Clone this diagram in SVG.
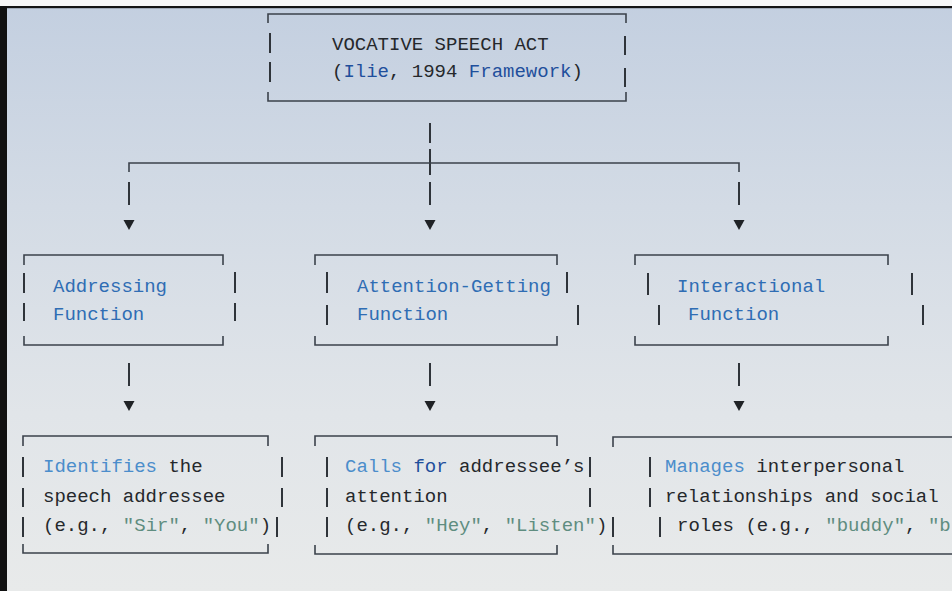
<svg xmlns="http://www.w3.org/2000/svg" width="952" height="591" viewBox="0 0 952 591">
  <defs>
    <linearGradient id="bg" x1="0" y1="0" x2="0" y2="1">
      <stop offset="0" stop-color="#c3cfe0"/>
      <stop offset="0.35" stop-color="#d3dbe5"/>
      <stop offset="0.7" stop-color="#e1e5e9"/>
      <stop offset="1" stop-color="#e8eaea"/>
    </linearGradient>
    <path id="arrow" d="M-5.5,0 L5.5,0 L0,10 Z"/>
    <style>
      .frame { fill: none; stroke: #3b424b; stroke-width: 1.6; }
      .bar { fill: none; stroke: #2f343a; stroke-width: 2; }
      .wire { fill: none; stroke: #3b424b; stroke-width: 1.6; }
      .head { fill: #1f2226; }
      text { font-family: "Liberation Mono", "DejaVu Sans Mono", monospace; font-size: 19px; fill: #25282c; }
      .kw { fill: #2f6db4; }
      .kw2 { fill: #1f4f9c; }
      .lt { fill: #4b8dcb; }
      .str { fill: #5f8d80; }
    </style>
  </defs>

  <!-- page -->
  <rect width="952" height="591" fill="url(#bg)"/>
  <rect x="0" y="0" width="952" height="6" fill="#f7f7f7"/>
  <rect x="0" y="6" width="952" height="2.2" fill="#141414"/>
  <rect x="0" y="6" width="7" height="585" fill="#111111"/>

  <!-- root -->
  <g id="root">
    <path class="frame" d="M268,23 V14 H626 V23"/>
    <path class="frame" d="M268,92 V101 H626 V92"/>
    <path class="bar" d="M270,33 V53 M270,62 V82 M625,36 V55 M625,68 V87"/>
    <text x="332" y="50">VOCATIVE SPEECH ACT</text>
    <text x="332" y="77">(<tspan class="kw2">Ilie</tspan>, 1994 <tspan class="kw2">Framework</tspan>)</text>
  </g>

  <!-- connectors -->
  <g id="connectors">
    <path class="bar" d="M430,123 V143 M430,149 V175 M430,182 V205"/>
    <path class="wire" d="M129,172 V163 H739 V172"/>
    <path class="bar" d="M129,182 V205 M739,182 V205"/>
    <use href="#arrow" class="head" x="129" y="220"/>
    <use href="#arrow" class="head" x="430" y="220"/>
    <use href="#arrow" class="head" x="739" y="220"/>
    <path class="bar" d="M129,363 V386 M430,363 V386 M739,363 V386"/>
    <use href="#arrow" class="head" x="129" y="401"/>
    <use href="#arrow" class="head" x="430" y="401"/>
    <use href="#arrow" class="head" x="739" y="401"/>
  </g>

  <!-- second level -->
  <g id="addressing">
    <path class="frame" d="M24,265 V255 H223 V265"/>
    <path class="frame" d="M24,336 V345 H223 V336"/>
    <path class="bar" d="M24,273 V293 M24,303 V321 M235,272 V293 M235,303 V321"/>
    <text x="53" y="292" class="kw">Addressing</text>
    <text x="53" y="320" class="kw">Function</text>
  </g>

  <g id="attention">
    <path class="frame" d="M315,265 V255 H557 V265"/>
    <path class="frame" d="M315,336 V345 H557 V336"/>
    <path class="bar" d="M327,272 V293 M327,305 V325 M567,272 V293 M578,305 V325"/>
    <text x="357" y="292" class="kw">Attention-Getting</text>
    <text x="357" y="320" class="kw">Function</text>
  </g>

  <g id="interactional">
    <path class="frame" d="M635,265 V255 H888 V265"/>
    <path class="frame" d="M635,336 V345 H888 V336"/>
    <path class="bar" d="M648,273 V295 M659,305 V325 M912,273 V295 M923,305 V325"/>
    <text x="677" y="292" class="kw">Interactional</text>
    <text x="688" y="320" class="kw">Function</text>
  </g>

  <!-- third level -->
  <g id="addressing-detail">
    <path class="frame" d="M23,446 V436 H268 V446"/>
    <path class="frame" d="M23,544 V553 H268 V544"/>
    <path class="bar" d="M23,457 V477 M23,488 V507 M23,517 V537 M282,457 V477 M282,488 V507 M277,517 V537"/>
    <text x="43" y="472"><tspan class="lt">Identifies</tspan> the</text>
    <text x="43" y="502">speech addressee</text>
    <text x="43" y="531">(e.g., <tspan class="str">"Sir"</tspan>, <tspan class="str">"You"</tspan>)</text>
  </g>

  <g id="attention-detail">
    <path class="frame" d="M315,446 V436 H557 V446"/>
    <path class="frame" d="M315,545 V554 H557 V545"/>
    <path class="bar" d="M327,457 V477 M327,488 V507 M327,517 V537 M590,457 V477 M590,488 V507 M613,517 V537"/>
    <text x="345" y="472"><tspan class="lt">Calls</tspan> <tspan class="kw2">for</tspan> addressee’s</text>
    <text x="345" y="502">attention</text>
    <text x="345" y="531">(e.g., <tspan class="str">"Hey"</tspan>, <tspan class="str">"Listen"</tspan>)</text>
  </g>

  <g id="interactional-detail">
    <path class="frame" d="M613,447 V437 H952"/>
    <path class="frame" d="M613,545 V554 H952"/>
    <path class="bar" d="M650,457 V477 M650,488 V507 M660,517 V537"/>
    <text x="665" y="472"><tspan class="lt">Manages</tspan> interpersonal</text>
    <text x="665" y="502">relationships and social</text>
    <text x="677" y="531">roles (e.g., <tspan class="str">"buddy"</tspan>, <tspan class="str">"b</tspan></text>
  </g>
</svg>
